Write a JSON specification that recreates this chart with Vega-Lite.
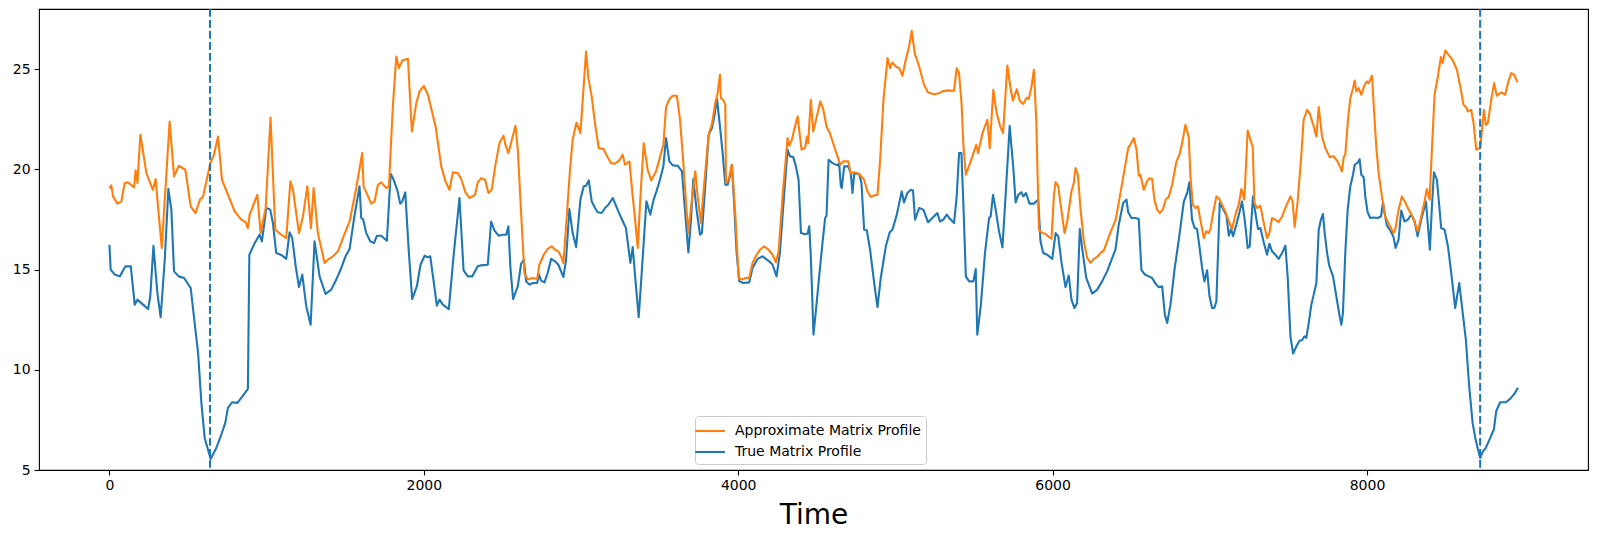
{
"$schema": "https://vega.github.io/schema/vega-lite/v6.json",
"width": 1549, "height": 461,
"autosize": {"type": "none"},
"padding": {"left": 39, "top": 9, "right": 9, "bottom": 68},
"background": "white",
"config": {
 "font": "DejaVu Sans",
 "view": {"stroke": "black", "strokeWidth": 1.1},
 "axis": {"domain": false, "grid": false, "ticks": true, "tickColor": "black", "tickWidth": 1.1, "tickSize": 4.9, "labelColor": "black", "labelFontSize": 14, "labelFont": "DejaVu Sans", "labelPadding": 4, "titleColor": "black", "titleFont": "DejaVu Sans", "titleFontWeight": "normal", "labelFlush": false, "labelOverlap": false},
 "legend": {"strokeColor": "#cccccc", "fillColor": "rgba(255,255,255,0.8)", "cornerRadius": 3, "padding": 5, "symbolType": "M-1.75,0H1.75", "symbolStrokeWidth": 2.1, "symbolSize": 289, "labelFontSize": 14, "labelFont": "DejaVu Sans", "labelColor": "black", "labelOffset": 15, "labelLimit": 0, "rowPadding": 4}
},
"datasets": {
 "true_mp": [
  {"time":0,"value":16.24},{"time":8,"value":15.0},{"time":34,"value":14.75},{"time":66,"value":14.66},{"time":102,"value":15.16},{"time":136,"value":15.16},{"time":161,"value":13.25},{"time":178,"value":13.5},{"time":214,"value":13.25},{"time":246,"value":13.03},{"time":260,"value":13.67},{"time":280,"value":16.19},{"time":305,"value":13.83},{"time":326,"value":12.62},{"time":352,"value":15.49},{"time":375,"value":19.03},{"time":394,"value":17.99},{"time":411,"value":14.91},{"time":441,"value":14.66},{"time":475,"value":14.58},{"time":496,"value":14.33},{"time":517,"value":14.08},{"time":547,"value":12.0},{"time":564,"value":10.84},{"time":585,"value":8.35},{"time":606,"value":6.6},{"time":644,"value":5.55},{"time":680,"value":6.1},{"time":712,"value":6.77},{"time":737,"value":7.35},{"time":754,"value":8.1},{"time":780,"value":8.38},{"time":814,"value":8.35},{"time":850,"value":8.71},{"time":881,"value":9.05},{"time":890,"value":15.74},{"time":924,"value":16.32},{"time":955,"value":16.74},{"time":970,"value":16.41},{"time":998,"value":18.07},{"time":1023,"value":17.99},{"time":1040,"value":17.32},{"time":1061,"value":15.83},{"time":1093,"value":15.73},{"time":1125,"value":15.53},{"time":1146,"value":16.86},{"time":1163,"value":16.57},{"time":1185,"value":15.16},{"time":1206,"value":14.13},{"time":1227,"value":14.75},{"time":1252,"value":13.17},{"time":1280,"value":12.25},{"time":1305,"value":16.41},{"time":1337,"value":14.66},{"time":1375,"value":13.78},{"time":1411,"value":14.0},{"time":1443,"value":14.5},{"time":1475,"value":15.08},{"time":1502,"value":15.66},{"time":1528,"value":16.03},{"time":1560,"value":17.74},{"time":1591,"value":19.15},{"time":1602,"value":17.57},{"time":1613,"value":17.52},{"time":1634,"value":16.82},{"time":1659,"value":16.41},{"time":1683,"value":16.32},{"time":1702,"value":16.69},{"time":1729,"value":16.69},{"time":1765,"value":16.44},{"time":1789,"value":19.78},{"time":1808,"value":19.48},{"time":1831,"value":18.98},{"time":1850,"value":18.29},{"time":1863,"value":18.4},{"time":1882,"value":18.85},{"time":1905,"value":15.83},{"time":1926,"value":13.53},{"time":1956,"value":14.17},{"time":1979,"value":15.24},{"time":2005,"value":15.69},{"time":2026,"value":15.61},{"time":2041,"value":15.66},{"time":2064,"value":14.33},{"time":2083,"value":13.2},{"time":2100,"value":13.5},{"time":2121,"value":13.25},{"time":2159,"value":13.03},{"time":2189,"value":15.66},{"time":2227,"value":18.57},{"time":2253,"value":14.96},{"time":2280,"value":14.66},{"time":2308,"value":14.66},{"time":2343,"value":15.16},{"time":2365,"value":15.21},{"time":2407,"value":15.24},{"time":2428,"value":17.4},{"time":2449,"value":16.96},{"time":2475,"value":16.69},{"time":2502,"value":16.74},{"time":2524,"value":16.74},{"time":2538,"value":17.16},{"time":2551,"value":15.08},{"time":2568,"value":13.53},{"time":2598,"value":14.17},{"time":2619,"value":15.29},{"time":2636,"value":15.49},{"time":2651,"value":14.41},{"time":2672,"value":14.25},{"time":2693,"value":14.33},{"time":2721,"value":14.33},{"time":2733,"value":14.75},{"time":2746,"value":14.45},{"time":2767,"value":14.36},{"time":2788,"value":14.83},{"time":2810,"value":15.53},{"time":2835,"value":15.41},{"time":2856,"value":15.24},{"time":2873,"value":14.91},{"time":2888,"value":14.63},{"time":2905,"value":15.49},{"time":2926,"value":18.02},{"time":2947,"value":16.82},{"time":2969,"value":16.12},{"time":2996,"value":18.49},{"time":3017,"value":19.15},{"time":3032,"value":19.18},{"time":3049,"value":19.45},{"time":3068,"value":18.4},{"time":3089,"value":18.07},{"time":3106,"value":17.86},{"time":3132,"value":17.82},{"time":3153,"value":18.07},{"time":3174,"value":18.24},{"time":3202,"value":18.57},{"time":3233,"value":17.99},{"time":3259,"value":17.52},{"time":3286,"value":17.07},{"time":3314,"value":15.33},{"time":3329,"value":16.12},{"time":3346,"value":14.5},{"time":3367,"value":12.62},{"time":3386,"value":14.83},{"time":3416,"value":18.4},{"time":3441,"value":17.74},{"time":3462,"value":18.49},{"time":3480,"value":18.9},{"time":3502,"value":19.48},{"time":3524,"value":20.15},{"time":3541,"value":21.56},{"time":3562,"value":20.4},{"time":3583,"value":20.2},{"time":3615,"value":20.18},{"time":3642,"value":19.9},{"time":3663,"value":17.82},{"time":3683,"value":15.86},{"time":3700,"value":17.49},{"time":3714,"value":19.52},{"time":3735,"value":17.99},{"time":3757,"value":16.74},{"time":3769,"value":16.82},{"time":3790,"value":19.15},{"time":3812,"value":21.73},{"time":3833,"value":22.06},{"time":3848,"value":22.64},{"time":3865,"value":23.5},{"time":3884,"value":22.14},{"time":3901,"value":20.81},{"time":3918,"value":19.23},{"time":3933,"value":19.23},{"time":3947,"value":19.65},{"time":3960,"value":20.23},{"time":3975,"value":18.15},{"time":3990,"value":15.83},{"time":4007,"value":14.41},{"time":4032,"value":14.33},{"time":4070,"value":14.36},{"time":4091,"value":15.08},{"time":4123,"value":15.53},{"time":4155,"value":15.66},{"time":4176,"value":15.53},{"time":4197,"value":15.41},{"time":4219,"value":15.24},{"time":4244,"value":14.66},{"time":4265,"value":15.83},{"time":4293,"value":18.82},{"time":4314,"value":20.98},{"time":4329,"value":20.65},{"time":4350,"value":20.61},{"time":4367,"value":20.15},{"time":4384,"value":19.48},{"time":4399,"value":16.82},{"time":4420,"value":16.77},{"time":4441,"value":16.79},{"time":4452,"value":17.16},{"time":4462,"value":15.66},{"time":4479,"value":11.75},{"time":4498,"value":13.25},{"time":4515,"value":14.66},{"time":4536,"value":16.32},{"time":4553,"value":17.57},{"time":4562,"value":17.69},{"time":4575,"value":20.48},{"time":4600,"value":20.31},{"time":4632,"value":20.2},{"time":4642,"value":20.31},{"time":4653,"value":19.15},{"time":4659,"value":19.07},{"time":4674,"value":20.15},{"time":4700,"value":20.15},{"time":4716,"value":19.81},{"time":4727,"value":18.82},{"time":4738,"value":19.78},{"time":4769,"value":19.78},{"time":4784,"value":19.32},{"time":4801,"value":16.99},{"time":4818,"value":16.96},{"time":4839,"value":15.99},{"time":4865,"value":14.33},{"time":4886,"value":13.13},{"time":4907,"value":14.58},{"time":4939,"value":16.16},{"time":4964,"value":16.86},{"time":4981,"value":16.99},{"time":5009,"value":17.74},{"time":5040,"value":18.9},{"time":5055,"value":18.35},{"time":5076,"value":18.82},{"time":5098,"value":18.98},{"time":5112,"value":18.95},{"time":5125,"value":17.49},{"time":5151,"value":18.07},{"time":5178,"value":17.99},{"time":5208,"value":17.36},{"time":5235,"value":17.57},{"time":5267,"value":17.82},{"time":5284,"value":17.4},{"time":5305,"value":17.49},{"time":5327,"value":17.74},{"time":5348,"value":17.52},{"time":5373,"value":17.32},{"time":5390,"value":18.65},{"time":5405,"value":20.81},{"time":5420,"value":20.81},{"time":5433,"value":18.15},{"time":5448,"value":14.66},{"time":5469,"value":14.41},{"time":5496,"value":14.41},{"time":5511,"value":15.03},{"time":5521,"value":11.75},{"time":5543,"value":13.17},{"time":5570,"value":15.83},{"time":5596,"value":17.57},{"time":5606,"value":17.65},{"time":5621,"value":18.73},{"time":5638,"value":17.99},{"time":5659,"value":16.91},{"time":5681,"value":16.11},{"time":5702,"value":18.82},{"time":5727,"value":22.17},{"time":5751,"value":19.98},{"time":5765,"value":18.35},{"time":5782,"value":18.73},{"time":5801,"value":18.86},{"time":5814,"value":18.65},{"time":5831,"value":18.82},{"time":5853,"value":18.29},{"time":5881,"value":18.29},{"time":5909,"value":18.49},{"time":5923,"value":16.41},{"time":5940,"value":15.83},{"time":5966,"value":15.74},{"time":5998,"value":15.53},{"time":6019,"value":16.82},{"time":6036,"value":16.66},{"time":6057,"value":15.33},{"time":6082,"value":14.12},{"time":6103,"value":14.7},{"time":6120,"value":13.5},{"time":6139,"value":13.08},{"time":6156,"value":13.33},{"time":6173,"value":17.02},{"time":6192,"value":15.83},{"time":6214,"value":14.58},{"time":6252,"value":13.8},{"time":6284,"value":14.0},{"time":6315,"value":14.41},{"time":6347,"value":14.91},{"time":6375,"value":15.49},{"time":6400,"value":15.99},{"time":6421,"value":17.24},{"time":6449,"value":18.32},{"time":6470,"value":18.49},{"time":6481,"value":17.86},{"time":6502,"value":17.57},{"time":6527,"value":17.57},{"time":6548,"value":17.52},{"time":6565,"value":14.99},{"time":6587,"value":14.75},{"time":6612,"value":14.66},{"time":6633,"value":14.58},{"time":6659,"value":14.25},{"time":6676,"value":14.12},{"time":6697,"value":14.17},{"time":6714,"value":12.75},{"time":6729,"value":12.34},{"time":6750,"value":13.25},{"time":6777,"value":15.08},{"time":6803,"value":16.49},{"time":6835,"value":18.4},{"time":6856,"value":18.82},{"time":6870,"value":19.35},{"time":6887,"value":17.49},{"time":6904,"value":17.07},{"time":6919,"value":17.02},{"time":6934,"value":16.16},{"time":6951,"value":15.08},{"time":6966,"value":14.41},{"time":6983,"value":14.96},{"time":6998,"value":13.67},{"time":7015,"value":13.08},{"time":7029,"value":13.08},{"time":7042,"value":13.42},{"time":7063,"value":18.32},{"time":7085,"value":18.02},{"time":7106,"value":17.69},{"time":7121,"value":16.69},{"time":7135,"value":17.02},{"time":7148,"value":16.66},{"time":7169,"value":17.24},{"time":7190,"value":17.9},{"time":7205,"value":18.4},{"time":7222,"value":17.49},{"time":7241,"value":16.08},{"time":7254,"value":16.16},{"time":7265,"value":17.49},{"time":7275,"value":18.65},{"time":7290,"value":17.82},{"time":7307,"value":17.02},{"time":7322,"value":17.07},{"time":7343,"value":16.36},{"time":7364,"value":15.74},{"time":7379,"value":16.29},{"time":7396,"value":15.91},{"time":7417,"value":15.74},{"time":7438,"value":15.53},{"time":7460,"value":15.83},{"time":7481,"value":16.19},{"time":7496,"value":14.58},{"time":7513,"value":11.67},{"time":7530,"value":10.81},{"time":7551,"value":11.17},{"time":7572,"value":11.46},{"time":7587,"value":11.47},{"time":7602,"value":11.67},{"time":7614,"value":11.59},{"time":7629,"value":12.3},{"time":7646,"value":13.25},{"time":7661,"value":13.75},{"time":7678,"value":14.33},{"time":7693,"value":16.99},{"time":7707,"value":17.49},{"time":7720,"value":17.77},{"time":7731,"value":16.82},{"time":7746,"value":15.83},{"time":7760,"value":15.2},{"time":7784,"value":14.66},{"time":7805,"value":13.67},{"time":7826,"value":12.67},{"time":7837,"value":12.25},{"time":7847,"value":12.83},{"time":7862,"value":15.83},{"time":7877,"value":17.99},{"time":7894,"value":19.15},{"time":7911,"value":19.73},{"time":7922,"value":20.23},{"time":7943,"value":20.35},{"time":7953,"value":20.51},{"time":7964,"value":19.73},{"time":7979,"value":19.61},{"time":7989,"value":18.65},{"time":8004,"value":17.86},{"time":8021,"value":17.57},{"time":8042,"value":17.6},{"time":8068,"value":17.57},{"time":8089,"value":17.65},{"time":8102,"value":18.35},{"time":8110,"value":17.9},{"time":8127,"value":17.19},{"time":8148,"value":16.96},{"time":8169,"value":16.62},{"time":8182,"value":16.08},{"time":8201,"value":16.49},{"time":8218,"value":17.95},{"time":8239,"value":17.4},{"time":8260,"value":17.49},{"time":8282,"value":17.74},{"time":8303,"value":17.4},{"time":8322,"value":16.66},{"time":8345,"value":17.49},{"time":8375,"value":18.4},{"time":8388,"value":17.16},{"time":8400,"value":15.99},{"time":8413,"value":18.15},{"time":8426,"value":19.85},{"time":8445,"value":19.48},{"time":8460,"value":18.15},{"time":8472,"value":17.07},{"time":8494,"value":16.99},{"time":8515,"value":16.16},{"time":8536,"value":14.83},{"time":8561,"value":13.08},{"time":8587,"value":14.33},{"time":8604,"value":13.17},{"time":8629,"value":11.5},{"time":8650,"value":9.18},{"time":8672,"value":7.35},{"time":8689,"value":6.6},{"time":8706,"value":6.02},{"time":8720,"value":5.6},{"time":8735,"value":5.89},{"time":8756,"value":6.1},{"time":8784,"value":6.6},{"time":8807,"value":7.02},{"time":8822,"value":7.93},{"time":8847,"value":8.38},{"time":8883,"value":8.38},{"time":8911,"value":8.55},{"time":8939,"value":8.81},{"time":8960,"value":9.1}
 ],
 "approx_mp": [
  {"time":0,"value":19.05},{"time":12,"value":19.2},{"time":23,"value":18.65},{"time":51,"value":18.29},{"time":76,"value":18.4},{"time":97,"value":19.32},{"time":119,"value":19.35},{"time":157,"value":19.1},{"time":167,"value":19.95},{"time":178,"value":19.32},{"time":197,"value":21.73},{"time":235,"value":19.81},{"time":277,"value":18.98},{"time":294,"value":19.52},{"time":309,"value":18.15},{"time":333,"value":16.08},{"time":383,"value":22.39},{"time":411,"value":19.65},{"time":441,"value":20.18},{"time":483,"value":19.98},{"time":517,"value":18.15},{"time":547,"value":17.82},{"time":578,"value":18.53},{"time":595,"value":18.62},{"time":642,"value":20.31},{"time":665,"value":20.73},{"time":691,"value":21.64},{"time":716,"value":19.48},{"time":750,"value":18.82},{"time":797,"value":17.9},{"time":839,"value":17.49},{"time":867,"value":17.36},{"time":881,"value":17.07},{"time":892,"value":17.74},{"time":941,"value":18.73},{"time":962,"value":16.82},{"time":994,"value":18.07},{"time":1025,"value":22.59},{"time":1055,"value":16.99},{"time":1093,"value":16.74},{"time":1125,"value":16.57},{"time":1151,"value":19.4},{"time":1168,"value":18.98},{"time":1206,"value":16.82},{"time":1231,"value":17.65},{"time":1259,"value":19.15},{"time":1282,"value":17.07},{"time":1299,"value":19.07},{"time":1326,"value":16.82},{"time":1369,"value":15.33},{"time":1390,"value":15.49},{"time":1422,"value":15.66},{"time":1454,"value":15.91},{"time":1485,"value":16.57},{"time":1528,"value":17.4},{"time":1570,"value":19.07},{"time":1608,"value":20.81},{"time":1617,"value":19.15},{"time":1666,"value":18.29},{"time":1687,"value":18.4},{"time":1708,"value":19.23},{"time":1729,"value":19.35},{"time":1761,"value":19.07},{"time":1778,"value":19.15},{"time":1803,"value":23.14},{"time":1825,"value":25.63},{"time":1841,"value":25.05},{"time":1863,"value":25.43},{"time":1899,"value":25.52},{"time":1924,"value":21.89},{"time":1952,"value":23.3},{"time":1973,"value":23.89},{"time":2000,"value":24.17},{"time":2026,"value":23.72},{"time":2075,"value":22.14},{"time":2111,"value":20.15},{"time":2138,"value":19.4},{"time":2163,"value":18.98},{"time":2185,"value":19.85},{"time":2216,"value":19.81},{"time":2238,"value":19.52},{"time":2265,"value":18.85},{"time":2291,"value":18.57},{"time":2326,"value":18.73},{"time":2343,"value":19.35},{"time":2365,"value":19.56},{"time":2390,"value":19.48},{"time":2411,"value":18.82},{"time":2432,"value":18.98},{"time":2454,"value":20.15},{"time":2481,"value":21.31},{"time":2507,"value":21.68},{"time":2519,"value":21.23},{"time":2538,"value":20.81},{"time":2555,"value":21.31},{"time":2583,"value":22.17},{"time":2598,"value":20.98},{"time":2619,"value":17.82},{"time":2640,"value":14.83},{"time":2661,"value":14.5},{"time":2693,"value":14.58},{"time":2721,"value":14.53},{"time":2735,"value":15.24},{"time":2763,"value":15.74},{"time":2788,"value":16.03},{"time":2814,"value":16.16},{"time":2835,"value":15.99},{"time":2856,"value":15.91},{"time":2873,"value":15.66},{"time":2888,"value":15.33},{"time":2905,"value":17.16},{"time":2930,"value":19.98},{"time":2947,"value":21.48},{"time":2971,"value":22.34},{"time":2996,"value":21.81},{"time":3017,"value":24.14},{"time":3032,"value":25.88},{"time":3047,"value":24.55},{"time":3068,"value":23.64},{"time":3089,"value":22.31},{"time":3113,"value":21.06},{"time":3144,"value":21.01},{"time":3166,"value":20.65},{"time":3191,"value":20.31},{"time":3216,"value":20.28},{"time":3244,"value":20.45},{"time":3265,"value":20.73},{"time":3280,"value":20.23},{"time":3308,"value":20.4},{"time":3329,"value":18.65},{"time":3344,"value":17.49},{"time":3361,"value":16.08},{"time":3377,"value":18.49},{"time":3399,"value":21.31},{"time":3424,"value":19.98},{"time":3447,"value":19.45},{"time":3477,"value":19.9},{"time":3498,"value":20.48},{"time":3524,"value":21.23},{"time":3541,"value":23.11},{"time":3562,"value":23.5},{"time":3583,"value":23.67},{"time":3610,"value":23.67},{"time":3630,"value":22.47},{"time":3651,"value":20.31},{"time":3668,"value":18.32},{"time":3683,"value":16.82},{"time":3700,"value":18.15},{"time":3727,"value":19.9},{"time":3742,"value":18.65},{"time":3763,"value":17.32},{"time":3784,"value":19.32},{"time":3812,"value":21.73},{"time":3833,"value":22.27},{"time":3854,"value":23.31},{"time":3869,"value":23.8},{"time":3884,"value":24.72},{"time":3890,"value":23.55},{"time":3905,"value":23.47},{"time":3918,"value":23.22},{"time":3922,"value":19.32},{"time":3939,"value":19.48},{"time":3960,"value":20.23},{"time":3981,"value":17.82},{"time":4003,"value":14.58},{"time":4024,"value":14.5},{"time":4045,"value":14.58},{"time":4070,"value":14.58},{"time":4091,"value":15.33},{"time":4117,"value":15.74},{"time":4138,"value":15.99},{"time":4166,"value":16.16},{"time":4193,"value":15.99},{"time":4219,"value":15.74},{"time":4240,"value":15.36},{"time":4257,"value":15.91},{"time":4282,"value":18.65},{"time":4314,"value":21.56},{"time":4325,"value":21.18},{"time":4342,"value":21.48},{"time":4356,"value":21.98},{"time":4378,"value":22.64},{"time":4403,"value":20.98},{"time":4426,"value":21.09},{"time":4437,"value":21.64},{"time":4445,"value":21.31},{"time":4462,"value":23.47},{"time":4477,"value":21.89},{"time":4498,"value":22.56},{"time":4522,"value":23.39},{"time":4541,"value":23.0},{"time":4562,"value":22.14},{"time":4583,"value":21.81},{"time":4611,"value":21.14},{"time":4632,"value":20.65},{"time":4649,"value":20.23},{"time":4668,"value":20.4},{"time":4700,"value":20.4},{"time":4716,"value":19.81},{"time":4738,"value":19.85},{"time":4769,"value":19.78},{"time":4801,"value":19.48},{"time":4822,"value":18.9},{"time":4844,"value":18.62},{"time":4865,"value":18.7},{"time":4886,"value":18.73},{"time":4903,"value":20.48},{"time":4924,"value":23.47},{"time":4950,"value":25.55},{"time":4966,"value":25.05},{"time":4981,"value":25.33},{"time":5003,"value":25.13},{"time":5024,"value":25.05},{"time":5045,"value":24.67},{"time":5066,"value":25.47},{"time":5087,"value":26.13},{"time":5104,"value":26.91},{"time":5123,"value":25.8},{"time":5151,"value":25.13},{"time":5182,"value":24.22},{"time":5208,"value":23.84},{"time":5246,"value":23.75},{"time":5278,"value":23.8},{"time":5299,"value":23.89},{"time":5331,"value":23.94},{"time":5373,"value":23.92},{"time":5390,"value":25.05},{"time":5405,"value":24.8},{"time":5420,"value":23.39},{"time":5433,"value":21.14},{"time":5448,"value":19.73},{"time":5475,"value":20.31},{"time":5500,"value":20.9},{"time":5515,"value":21.23},{"time":5526,"value":20.81},{"time":5554,"value":21.81},{"time":5585,"value":22.47},{"time":5600,"value":21.06},{"time":5623,"value":23.97},{"time":5644,"value":22.81},{"time":5666,"value":22.17},{"time":5685,"value":21.81},{"time":5712,"value":25.18},{"time":5734,"value":23.97},{"time":5748,"value":23.42},{"time":5772,"value":24.0},{"time":5793,"value":23.39},{"time":5814,"value":23.27},{"time":5835,"value":23.57},{"time":5849,"value":23.52},{"time":5866,"value":24.14},{"time":5881,"value":24.97},{"time":5896,"value":22.47},{"time":5913,"value":16.99},{"time":5934,"value":16.82},{"time":5955,"value":16.79},{"time":5976,"value":16.62},{"time":5993,"value":16.54},{"time":6008,"value":18.65},{"time":6019,"value":19.37},{"time":6036,"value":19.15},{"time":6050,"value":18.32},{"time":6076,"value":16.82},{"time":6093,"value":17.4},{"time":6120,"value":18.9},{"time":6135,"value":19.32},{"time":6146,"value":20.06},{"time":6161,"value":19.73},{"time":6178,"value":17.99},{"time":6199,"value":16.41},{"time":6220,"value":15.58},{"time":6241,"value":15.33},{"time":6262,"value":15.53},{"time":6284,"value":15.63},{"time":6305,"value":15.83},{"time":6326,"value":15.96},{"time":6347,"value":16.41},{"time":6375,"value":16.99},{"time":6400,"value":17.44},{"time":6428,"value":18.65},{"time":6459,"value":20.06},{"time":6481,"value":21.06},{"time":6502,"value":21.34},{"time":6517,"value":21.56},{"time":6534,"value":20.98},{"time":6548,"value":19.68},{"time":6559,"value":19.73},{"time":6580,"value":18.98},{"time":6601,"value":19.4},{"time":6616,"value":19.56},{"time":6633,"value":19.52},{"time":6648,"value":18.49},{"time":6665,"value":17.99},{"time":6682,"value":17.82},{"time":6701,"value":17.99},{"time":6722,"value":18.53},{"time":6739,"value":18.62},{"time":6760,"value":19.23},{"time":6788,"value":20.4},{"time":6807,"value":20.73},{"time":6824,"value":21.31},{"time":6845,"value":22.22},{"time":6866,"value":21.61},{"time":6877,"value":19.65},{"time":6892,"value":18.24},{"time":6909,"value":18.07},{"time":6924,"value":18.15},{"time":6940,"value":17.49},{"time":6962,"value":16.57},{"time":6977,"value":16.91},{"time":6993,"value":16.82},{"time":7004,"value":17.02},{"time":7021,"value":17.82},{"time":7042,"value":18.65},{"time":7057,"value":18.57},{"time":7078,"value":18.24},{"time":7099,"value":17.9},{"time":7121,"value":17.4},{"time":7142,"value":17.02},{"time":7163,"value":17.74},{"time":7184,"value":18.24},{"time":7201,"value":19.02},{"time":7220,"value":18.49},{"time":7241,"value":21.94},{"time":7258,"value":21.48},{"time":7273,"value":21.14},{"time":7284,"value":18.32},{"time":7301,"value":18.07},{"time":7322,"value":18.19},{"time":7339,"value":17.49},{"time":7364,"value":16.57},{"time":7379,"value":16.82},{"time":7396,"value":17.57},{"time":7417,"value":17.49},{"time":7438,"value":17.37},{"time":7460,"value":17.65},{"time":7487,"value":18.19},{"time":7513,"value":18.65},{"time":7527,"value":18.4},{"time":7540,"value":17.12},{"time":7559,"value":18.4},{"time":7580,"value":20.48},{"time":7597,"value":22.47},{"time":7619,"value":22.97},{"time":7635,"value":22.81},{"time":7661,"value":22.14},{"time":7678,"value":21.64},{"time":7693,"value":23.11},{"time":7714,"value":21.64},{"time":7735,"value":21.06},{"time":7763,"value":20.61},{"time":7788,"value":20.65},{"time":7813,"value":20.4},{"time":7841,"value":19.9},{"time":7852,"value":20.61},{"time":7862,"value":20.73},{"time":7879,"value":22.47},{"time":7894,"value":23.55},{"time":7911,"value":24.05},{"time":7922,"value":24.43},{"time":7932,"value":23.89},{"time":7947,"value":24.05},{"time":7964,"value":23.72},{"time":7985,"value":24.22},{"time":8000,"value":24.39},{"time":8011,"value":24.3},{"time":8032,"value":24.67},{"time":8042,"value":23.31},{"time":8059,"value":21.14},{"time":8074,"value":19.81},{"time":8095,"value":18.65},{"time":8116,"value":17.65},{"time":8142,"value":17.24},{"time":8169,"value":16.82},{"time":8180,"value":17.0},{"time":8201,"value":17.99},{"time":8222,"value":18.65},{"time":8244,"value":18.35},{"time":8265,"value":17.99},{"time":8290,"value":17.65},{"time":8311,"value":17.16},{"time":8324,"value":16.91},{"time":8345,"value":17.65},{"time":8366,"value":18.4},{"time":8381,"value":19.02},{"time":8398,"value":18.49},{"time":8413,"value":20.98},{"time":8430,"value":23.72},{"time":8451,"value":24.63},{"time":8470,"value":25.6},{"time":8481,"value":25.3},{"time":8498,"value":25.93},{"time":8519,"value":25.71},{"time":8544,"value":25.47},{"time":8572,"value":24.97},{"time":8593,"value":24.14},{"time":8614,"value":23.22},{"time":8629,"value":23.11},{"time":8642,"value":22.89},{"time":8663,"value":22.97},{"time":8678,"value":22.31},{"time":8695,"value":20.98},{"time":8720,"value":21.06},{"time":8735,"value":22.22},{"time":8744,"value":22.97},{"time":8756,"value":22.22},{"time":8769,"value":22.31},{"time":8794,"value":23.64},{"time":8809,"value":24.3},{"time":8826,"value":23.67},{"time":8854,"value":23.84},{"time":8879,"value":23.72},{"time":8900,"value":24.39},{"time":8917,"value":24.8},{"time":8936,"value":24.72},{"time":8958,"value":24.34}
 ],
 "motifs": [{"time": 640}, {"time": 8720}]
},
"layer": [
 {
  "data": {"name": "true_mp"},
  "mark": {"type": "line", "strokeWidth": 2.1, "strokeJoin": "round", "clip": true},
  "encoding": {
   "x": {"field": "time", "type": "quantitative", "scale": {"domain": [-448, 9406], "nice": false, "zero": false}, "axis": {"title": "Time", "titleFontSize": 28, "titlePadding": 9, "values": [0, 2000, 4000, 6000, 8000], "format": "d"}},
   "y": {"field": "value", "type": "quantitative", "scale": {"domain": [5, 28], "nice": false, "zero": false}, "axis": {"title": null, "values": [5, 10, 15, 20, 25]}},
   "color": {"datum": "True Matrix Profile", "type": "nominal", "scale": {"domain": ["Approximate Matrix Profile", "True Matrix Profile"], "range": ["#ff7f0e", "#1f77b4"]}, "legend": {"title": null, "orient": "none", "legendX": 656, "legendY": 407}}
  }
 },
 {
  "data": {"name": "approx_mp"},
  "mark": {"type": "line", "strokeWidth": 2.1, "strokeJoin": "round", "clip": true},
  "encoding": {
   "x": {"field": "time", "type": "quantitative"},
   "y": {"field": "value", "type": "quantitative"},
   "color": {"datum": "Approximate Matrix Profile", "type": "nominal"}
  }
 },
 {
  "data": {"name": "motifs"},
  "mark": {"type": "rule", "color": "#1f77b4", "strokeWidth": 2.1, "strokeDash": [7.7, 3.3]},
  "encoding": {"x": {"field": "time", "type": "quantitative"}}
 }
]
}
